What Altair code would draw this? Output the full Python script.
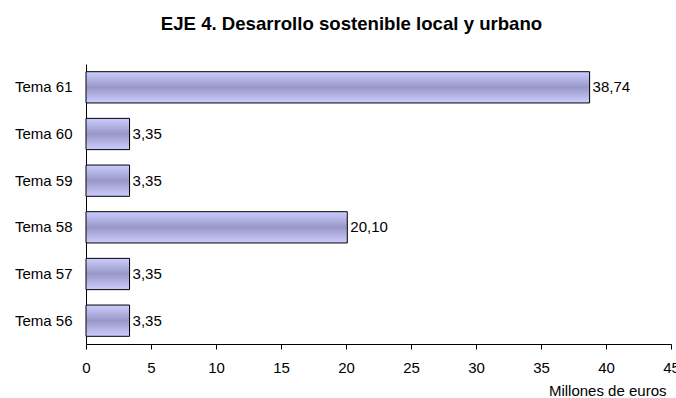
import altair as alt
import pandas as pd

# Funding per theme (millions of euros)
temas = ["Tema 61", "Tema 60", "Tema 59", "Tema 58", "Tema 57", "Tema 56"]
importes = [38.74, 3.35, 3.35, 20.10, 3.35, 3.35]
x_ticks = [0, 5, 10, 15, 20, 25, 30, 35, 40, 45]

df = pd.DataFrame({"tema": temas, "importe": importes})

FONT = "Liberation Sans"

bar_fill = alt.Gradient(
    gradient="linear",
    x1=0, y1=0, x2=0, y2=1,
    stops=[
        alt.GradientStop(color="#ccccff", offset=0),
        alt.GradientStop(color="#9999c8", offset=0.5),
        alt.GradientStop(color="#ccccff", offset=1),
    ],
)

y_enc = alt.Y(
    "tema:N",
    sort=temas,
    scale=alt.Scale(paddingInner=0.33, paddingOuter=0.165),
    axis=alt.Axis(
        title=None,
        ticks=False,
        labelPadding=14,
        labelFont=FONT,
        labelFontSize=15,
        labelColor="#000000",
        domainColor="#000000",
        domainWidth=1,
    ),
)

x_enc = alt.X(
    "importe:Q",
    scale=alt.Scale(domain=[0, 45], nice=False, zero=True),
    axis=alt.Axis(
        values=x_ticks,
        grid=False,
        tickSize=5,
        tickColor="#000000",
        domainColor="#000000",
        labelFont=FONT,
        labelFontSize=15,
        labelColor="#000000",
        labelPadding=11,
        labelFlush=False,
        labelOverlap=False,
        title="Millones de euros",
        titleFont=FONT,
        titleFontSize=15,
        titleFontWeight="normal",
        titleColor="#000000",
        titleAnchor="start",
        titleAlign="right",
        titleBaseline="alphabetic",
        titleX=580,
        titleY=51,
    ),
)

bars = alt.Chart(df).mark_bar(
    fill=bar_fill, stroke="#000000", strokeWidth=1
).encode(x=x_enc, y=y_enc)

labels = alt.Chart(df).transform_calculate(
    etiqueta="replace(format(datum.importe, '.2f'), '.', ',')"
).mark_text(
    align="left", baseline="middle", dx=3, font=FONT, fontSize=15, color="#000000"
).encode(
    x=alt.X("importe:Q"),
    y=alt.Y("tema:N", sort=temas),
    text="etiqueta:N",
)

chart = (
    alt.layer(bars, labels)
    .properties(
        width=585,
        height=280,
        padding={"left": 86, "right": 5, "top": 64, "bottom": 54},
        autosize=alt.AutoSizeParams(type="none"),
        background="#ffffff",
        title=alt.TitleParams(
            "EJE 4. Desarrollo sostenible local y urbano",
            font=FONT,
            fontSize=18.6,
            fontWeight="bold",
            color="#000000",
            anchor="middle",
            baseline="alphabetic",
            offset=15,
            dx=-27,
        ),
    )
    .configure_view(stroke=None)
)

chart.save("out.html", embed_options={"renderer": "svg", "actions": False})
